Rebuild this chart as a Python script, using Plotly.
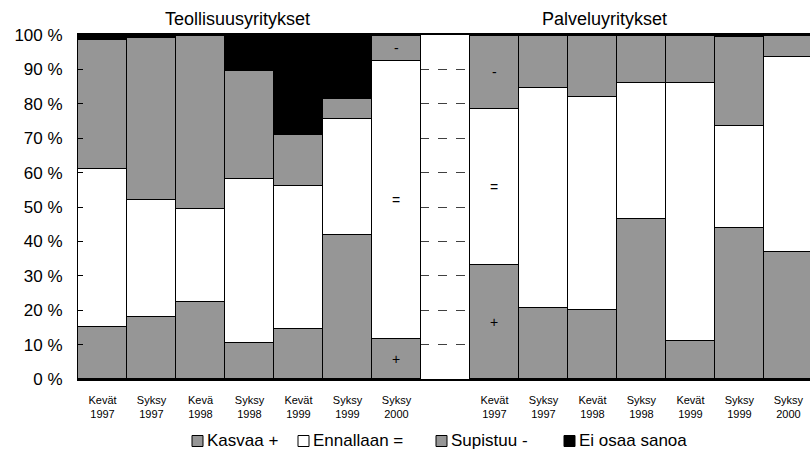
import plotly.graph_objects as go

# Category labels
left_labels = ["Kevät<br>1997", "Syksy<br>1997", "Kevä<br>1998", "Syksy<br>1998",
               "Kevät<br>1999", "Syksy<br>1999", "Syksy<br>2000"]
right_labels = ["Kevät<br>1997", "Syksy<br>1997", "Kevät<br>1998", "Syksy<br>1998",
                "Kevät<br>1999", "Syksy<br>1999", "Syksy<br>2000"]

# Teollisuusyritykset (industry)
ind_kasvaa = [15, 18, 22.5, 10.5, 14.5, 42, 11.5]
ind_ennallaan = [46, 34, 27, 47.5, 41.5, 33.5, 81]
ind_supistuu = [37.5, 47, 50.3, 31.5, 15, 6, 7.2]
ind_eos = [1.5, 1, 0.2, 10.5, 29, 18.5, 0.3]

# Palveluyritykset (services)
srv_kasvaa = [33, 20.5, 20, 46.5, 11, 44, 37]
srv_ennallaan = [45.5, 64, 62, 39.5, 75, 29.5, 56.5]
srv_supistuu = [21.3, 15.3, 17.8, 13.8, 13.8, 25.8, 6.3]
srv_eos = [0.2, 0.2, 0.2, 0.2, 0.2, 0.7, 0.2]

series_names = ["Kasvaa +", "Ennallaan =", "Supistuu -", "Ei osaa sanoa"]
series_colors = ["#969696", "#ffffff", "#969696", "#000000"]
panel_titles = ["Teollisuusyritykset", "Palveluyritykset"]
y_ticks = [0, 10, 20, 30, 40, 50, 60, 70, 80, 90, 100]

left_x = list(range(7))
right_x = list(range(8, 15))
xs = left_x + right_x

data = [ind_kasvaa + srv_kasvaa, ind_ennallaan + srv_ennallaan,
        ind_supistuu + srv_supistuu, ind_eos + srv_eos]

FONT = "Liberation Sans, Arial, sans-serif"

# layout geometry (pixels)
W, H = 810, 459
ML, MR, MT, MB = 78, 0, 35, 80
PW, PH = W - ML - MR, H - MT - MB


def px_x(p):
    return (p - ML) / PW


def px_y(p):
    return (H - MB - p) / PH


fig = go.Figure()
for name, col, vals in zip(series_names, series_colors, data):
    fig.add_trace(go.Bar(
        x=xs, y=vals, name=name, width=1, showlegend=False,
        marker=dict(color=col, line=dict(color="#000000", width=1)),
        hoverinfo="skip",
    ))

# symbols inside the last left bar and the first right bar
for xi, k, e, s in [(6, ind_kasvaa[6], ind_ennallaan[6], ind_supistuu[6]),
                    (8, srv_kasvaa[0], srv_ennallaan[0], srv_supistuu[0])]:
    for sym, yv in [("+", k / 2), ("=", k + e / 2), ("-", k + e + s / 2)]:
        fig.add_annotation(x=xi, y=yv, text=sym, showarrow=False,
                           font=dict(size=14, color="#000", family=FONT))

# panel titles
for xc, t in [(237, panel_titles[0]), (604, panel_titles[1])]:
    fig.add_annotation(x=px_x(xc), xref="paper", xanchor="center",
                       y=1.0, yref="paper", yanchor="bottom", yshift=4,
                       text=t, showarrow=False,
                       font=dict(size=18, color="#000", family=FONT))

# legend (manual, compact like the original)
leg_sq_x = [192, 298, 436, 564]
leg_y = 441
sq = 11
for name, col, x0 in zip(series_names, series_colors, leg_sq_x):
    fig.add_shape(type="rect", xref="paper", yref="paper",
                  x0=px_x(x0), x1=px_x(x0 + sq),
                  y0=px_y(leg_y + sq / 2), y1=px_y(leg_y - sq / 2),
                  fillcolor=col, line=dict(color="#000", width=1))
    fig.add_annotation(xref="paper", yref="paper", x=px_x(x0 + sq + 2),
                       y=px_y(leg_y), xanchor="left", yanchor="middle",
                       text=name, showarrow=False,
                       font=dict(size=17, color="#000", family=FONT))

fig.update_layout(
    width=W, height=H,
    margin=dict(l=ML, r=MR, t=MT, b=MB),
    barmode="stack", bargap=0,
    plot_bgcolor="#ffffff", paper_bgcolor="#ffffff",
    font=dict(family=FONT, color="#000"),
    showlegend=False,
    xaxis=dict(range=[-0.5, 14.44], tickvals=xs, ticktext=left_labels + right_labels,
               tickfont=dict(size=11, family=FONT), showline=True, linecolor="#000",
               linewidth=1.5, mirror=True, showgrid=False, ticks="", zeroline=False,
               ticklabelstandoff=10),
    yaxis=dict(range=[0, 100], tickvals=y_ticks, ticktext=[f"{v} %" for v in y_ticks],
               tickfont=dict(size=17, family=FONT), showline=True, linecolor="#000",
               linewidth=1, showgrid=True, gridcolor="#404040", griddash="dash",
               gridwidth=1, ticks="inside", ticklen=5, tickcolor="#000",
               zeroline=False, ticklabelstandoff=11),
)

fig.write_html("out.html")
